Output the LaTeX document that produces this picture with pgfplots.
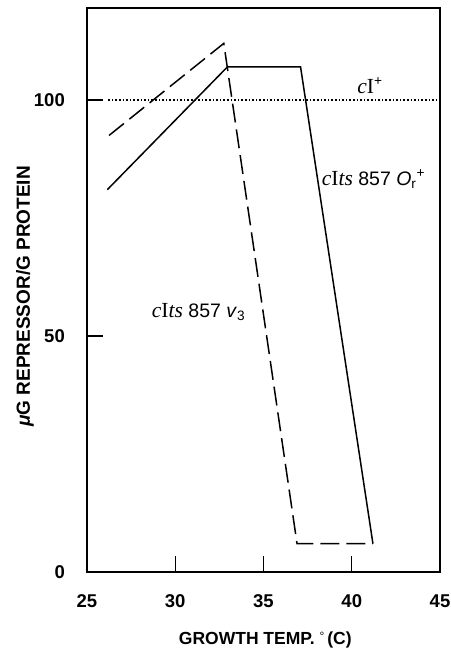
\documentclass[border=0pt]{standalone}
\usepackage{fontspec}
\setmainfont{Liberation Sans}
\newfontfamily\serif{Liberation Serif}
\usepackage{pgfplots}
\pgfplotsset{compat=1.18}
\begin{document}
\begin{tikzpicture}
\begin{axis}[
  at={(0,0)}, anchor=south west,
  scale only axis, width=353pt, height=564pt,
  xmin=25, xmax=45, ymin=0, ymax=119.5,
  xtick={25,30,35,40,45}, ytick={0,50,100},
  tick align=inside, major tick length=16pt,
  tick pos=left,
  axis line style={line width=1.2pt},
  every tick/.style={line width=1.2pt, black},
  /pgf/number format/assume math mode=true,
  xticklabel style={font=\bfseries\fontsize{18.5}{18.5}\selectfont, anchor=center, inner sep=0pt, yshift=-29pt},
  yticklabel style={font=\bfseries\fontsize{18.5}{18.5}\selectfont, anchor=east, inner sep=0pt, xshift=-22pt},
  every axis x label/.style={at={(axis description cs:0.505,-0.1206)}, anchor=center, font=\bfseries\fontsize{17.5}{17.5}\selectfont},
  every axis y label/.style={at={(axis description cs:-0.1756,0.4885)}, anchor=center, rotate=90, font=\bfseries\fontsize{19}{19}\selectfont},
  xlabel={GROWTH TEMP. \raisebox{0.45ex}{\fontsize{12}{12}\selectfont\mdseries\textdegree}\,(C)},
  ylabel={\textit{μ}G REPRESSOR/G PROTEIN},
  clip=false,
]
% cIts 857 Or+ (solid)
\addplot[black, line width=1.5pt] coordinates {(26.15,81) (32.95,107) (37.1,107) (41.2,6)};
% cIts 857 v3 (dashed)
\addplot[black, line width=1.5pt, dash pattern=on 19pt off 7pt] coordinates {(26.25,92.5) (32.75,112) (36.9,6) (41.2,6)};
% cI+ (dotted)
\addplot[black, line width=1.6pt, dash pattern=on 1.6pt off 2pt] coordinates {(26.2,100) (45,100)};
\node[font=\fontsize{19.5}{22}\selectfont] at (axis cs:41.03,103.0) {{\serif\fontsize{21.5}{24}\selectfont\itshape c}{\serif\fontsize{21.5}{24}\selectfont I}\textsuperscript{+}};
\node[font=\fontsize{19.5}{22}\selectfont] at (axis cs:41.23,83.2) {{\serif\fontsize{21.5}{24}\selectfont\itshape c}{\serif\fontsize{21.5}{24}\selectfont I}{\serif\fontsize{21.5}{24}\selectfont\itshape ts} 857 \textit{O}\textsubscript{r}\textsuperscript{+}};
\node[font=\fontsize{19.5}{22}\selectfont] at (axis cs:31.32,55.0) {{\serif\fontsize{21.5}{24}\selectfont\itshape c}{\serif\fontsize{21.5}{24}\selectfont I}{\serif\fontsize{21.5}{24}\selectfont\itshape ts} 857 \textit{v}\textsubscript{3}};
\end{axis}
\pgfresetboundingbox
\path[use as bounding box] (-87pt,-80pt) rectangle (363pt,572pt);
\end{tikzpicture}
\end{document}
